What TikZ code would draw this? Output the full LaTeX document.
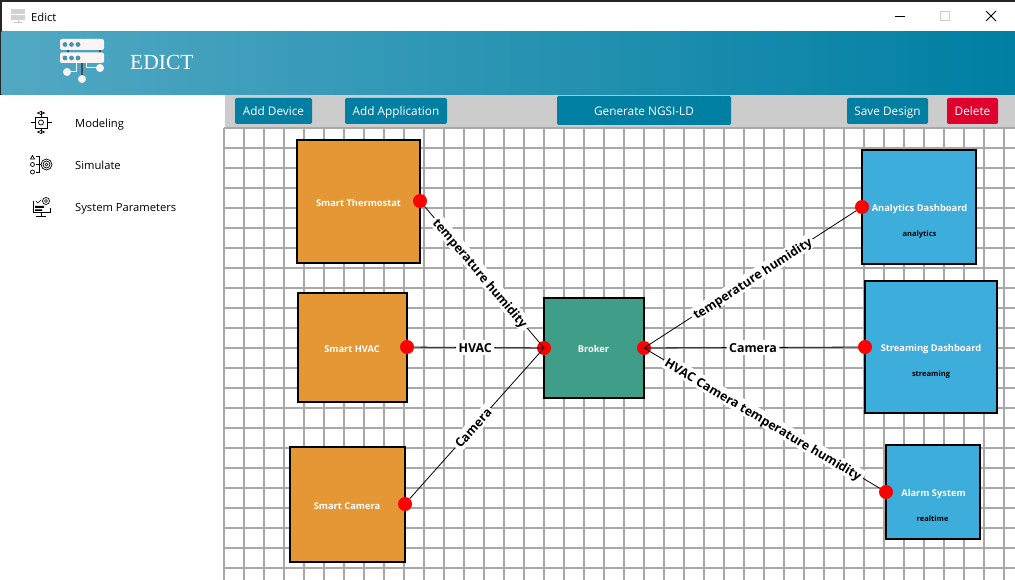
\documentclass[tikz,border=0pt]{standalone}
\usepackage{fontspec}
\setmainfont{Open Sans}
\newfontfamily\titlefont{Liberation Serif}
\definecolor{ink}{HTML}{000000}
\definecolor{barleft}{HTML}{52A8C3}
\definecolor{barright}{HTML}{007FA3}
\definecolor{btnblue}{HTML}{007FA3}
\definecolor{btnred}{HTML}{E0002D}
\definecolor{toolbg}{HTML}{CCCCCC}
\definecolor{gridline}{HTML}{A8A8A8}
\definecolor{device}{HTML}{E59736}
\definecolor{brokerc}{HTML}{3F9E87}
\definecolor{appc}{HTML}{3DADDB}
\definecolor{logodot}{HTML}{4A93AD}
\definecolor{logowhite}{HTML}{FBF4F4}
\usetikzlibrary{positioning}
\tikzset{
  toolbtn/.style={
    fill=btnblue,
    rounded corners=2pt,
    text=white,
    inner sep=0pt,
    font=\fontsize{11.8}{14}\selectfont,
    text height=10pt,
    text depth=0pt,
    minimum height=26pt
  },
  sideitem/.style={anchor=base west, inner sep=0pt, font=\fontsize{11.2}{14}\selectfont, text=ink},
  box/.style={draw=ink, line width=2pt, inner sep=0pt},
  devicebox/.style={box, fill=device},
  appbox/.style={box, fill=appc},
  boxname/.style={inner sep=0pt, text=white, font=\bfseries\fontsize{9.3}{11}\selectfont, text height=8pt, text depth=0pt},
  boxsub/.style={inner sep=0pt, text=ink, font=\bfseries\fontsize{7.5}{9}\selectfont, text height=6pt, text depth=0pt},
  port/.style={circle, fill=red, minimum size=14pt, inner sep=0pt},
  wire/.style={draw=ink, line width=0.8pt},
  wirelabel/.style={
    midway, sloped, fill=white, inner sep=2.5pt,
    text=ink, text height=10pt, text depth=0pt,
    font=\bfseries\fontsize{12.4}{14}\selectfont
  },
  iconline/.style={draw=ink, line width=0.7pt}
}
\begin{document}
\begin{tikzpicture}[x=1pt, y=-1pt]
  \useasboundingbox (0,0) rectangle (1015,580);
  \fill[white] (0,0) rectangle (1015,580);

  % Window frame and title bar
  \fill[black!85] (0,0) rectangle (1015,2);
  \fill[black!85] (0,0) rectangle (1.5,95);
  \node[sideitem] (wintitle) at (31,22) {Edict};
  \fill[gray!35] (11,9) rectangle (25,14);
  \fill[gray!35] (11,15) rectangle (25,20);
  \draw[gray!45, line width=0.7pt] (18,20) -- (18,23) (14,22) -- (22,22);
  \draw[ink, line width=0.9pt] (895,16) -- (905,16);
  \draw[black!20, line width=0.9pt] (940.5,11.5) rectangle (949.5,20.5);
  \draw[ink, line width=0.9pt] (986,11) -- (996,21) (996,11) -- (986,21);

  % Header
  \shade[left color=barleft, right color=barright] (1.5,32) rectangle (1015,95);
  \node[anchor=west, inner sep=0pt, text=white, font=\titlefont\fontsize{21.5}{26}\selectfont] (apptitle) at (130,62) {EDICT};

  % Logo
  \fill[black!70] (67,49) rectangle (69,53) (99,49) rectangle (101,53);
  \fill[logowhite, rounded corners=2pt] (60,39) rectangle (104,50);
  \fill[logowhite, rounded corners=2pt] (60,52.5) rectangle (104,63);
  \foreach \dx in {65,71.5,78} {
    \fill[logodot] (\dx,44.5) circle (2.4pt);
    \fill[logodot] (\dx,58) circle (2.4pt);
  }
  \draw[black!70, line width=2pt] (82,63) -- (82,78);
  \draw[logowhite, line width=1pt] (67,72) -- (76,72) -- (76,63);
  \draw[logowhite, line width=1pt] (86,63) -- (86,68) -- (100,68);
  \fill[logowhite] (67,72) circle (4pt) (82,79) circle (4pt) (100,68) circle (4pt);

  % Sidebar
  \node[sideitem] (modeling) at (75,127.5) {Modeling};
  \node[sideitem] (simulate) at (75,169.5) {Simulate};
  \node[sideitem] (sysparams) at (75,211.5) {System Parameters};

  % Modeling icon
  \draw[iconline] (35,117) rectangle (47,128);
  \draw[iconline] (41,122.5) circle (2.5pt);
  \draw[iconline] (41,115) -- (41,117) (41,128) -- (41,130) (33,122.5) -- (35,122.5) (47,122.5) -- (49,122.5);
  \foreach \px/\py/\qx/\qy in {41/111.5/41/115, 41/130/41/133.5, 30.5/122.5/33/122.5, 49/122.5/52/122.5} {
    \draw[iconline] (\px,\py) -- (\qx,\qy);
  }
  \draw[iconline] (37.5,113) -- (41,111.5) -- (44.5,113) -- (41,114.5) -- cycle;
  \draw[iconline] (37.5,132) -- (41,130.5) -- (44.5,132) -- (41,133.5) -- cycle;

  % Simulate icon
  \draw[iconline] (46.5,164.5) circle (5.5pt);
  \draw[iconline] (46.5,164.5) circle (3.5pt);
  \draw[iconline] (46.5,164.5) circle (1.5pt);
  \draw[iconline] (32.5,155.5) -- (30.5,159) -- (34.5,159) -- cycle;
  \draw[iconline] (32.5,164.5) circle (2pt) (32.5,172) circle (2pt);
  \draw[iconline] (36,164.5) -- (41,164.5) (36,156) -- (39,156) -- (39,172) -- (36,172);

  % System parameters icon
  \draw[iconline] (33,201) -- (33,212) -- (50,212) -- (50,208);
  \fill[ink] (35,206) rectangle (44,208) (35,209.5) rectangle (42,211);
  \draw[iconline] (46,201) circle (3.5pt);
  \draw[iconline] (46,201) circle (1.5pt);
  \draw[iconline] (36,201) -- (38,203) -- (41,200);
  \draw[iconline] (41,212) -- (41,216) (36,216) -- (46,216);

  % Toolbar
  \fill[toolbg] (225,95) rectangle (1015,128);

  % Canvas grid
  \foreach \gx in {224,244,...,1014} {
    \draw[gridline, line width=1.3pt] (\gx,128) -- (\gx,580);
  }
  \foreach \gy in {128,148,...,568} {
    \draw[gridline, line width=1.3pt] (224,\gy) -- (1015,\gy);
  }

  % Toolbar buttons
  \node[toolbtn, minimum width=77pt] (adddevice) at (273.5,111) {Add Device};
  \node[toolbtn, minimum width=102pt] (addapp) at (396,111) {Add Application};
  \node[toolbtn, minimum width=174pt, minimum height=29pt] (generate) at (644,110.5) {Generate NGSI-LD};
  \node[toolbtn, minimum width=81pt] (savedesign) at (887.5,111) {Save Design};
  \node[toolbtn, fill=btnred, minimum width=51pt] (deletebtn) at (972.5,111) {Delete};

  % Devices
  \node[devicebox, minimum width=123pt, minimum height=123pt] (thermostat) at (358.7,201.7) {};
  \node[boxname] (thermostatname) at (358.5,202.5) {Smart Thermostat};
  \node[devicebox, minimum width=109pt, minimum height=109pt] (hvac) at (352.5,347.5) {};
  \node[boxname] (hvacname) at (352,348.5) {Smart HVAC};
  \node[devicebox, minimum width=115pt, minimum height=115pt] (camera) at (347.5,504.5) {};
  \node[boxname] (cameraname) at (347,505.5) {Smart Camera};

  % Broker
  \node[box, fill=brokerc, minimum width=100pt, minimum height=100pt] (broker) at (594,348) {};
  \node[boxname] (brokername) at (593.5,348.5) {Broker};

  % Applications
  \node[appbox, minimum width=114pt, minimum height=114pt] (analytics) at (919,207) {};
  \node[boxname] (analyticsname) at (919.5,207.5) {Analytics Dashboard};
  \node[boxsub] (analyticssub) at (919.5,233.5) {analytics};
  \node[appbox, minimum width=132pt, minimum height=132pt] (streaming) at (931,347) {};
  \node[boxname] (streamingname) at (931,347.5) {Streaming Dashboard};
  \node[boxsub] (streamingsub) at (931,373.5) {streaming};
  \node[appbox, minimum width=94pt, minimum height=94pt] (alarm) at (933,492) {};
  \node[boxname] (alarmname) at (933.5,492.5) {Alarm System};
  \node[boxsub] (alarmsub) at (932.5,518.5) {realtime};

  % Ports
  \node[port] (thermostatout) at (420,201) {};
  \node[port] (hvacout) at (407,347) {};
  \node[port] (cameraout) at (405,504) {};
  \node[port] (brokerin) at (544,348) {};
  \node[port] (brokerout) at (644,348) {};
  \node[port] (analyticsin) at (862,207) {};
  \node[port] (streamingin) at (865,347) {};
  \node[port] (alarmin) at (886,492) {};

  % Connections
  \draw[wire] (thermostatout) -- node[wirelabel, pos=0.47] (lblthermostat) {temperature humidity} (brokerin.center);
  \draw[wire] (hvacout) -- node[wirelabel, pos=0.47] (lblhvac) {HVAC} (brokerin.center);
  \draw[wire] (cameraout) -- node[wirelabel, pos=0.47] (lblcamera) {Camera} (brokerin.center);
  \draw[wire] (brokerout.center) -- node[wirelabel, pos=0.51] (lblanalytics) {temperature humidity} (analyticsin);
  \draw[wire] (brokerout.center) -- node[wirelabel, pos=0.51] (lblstreaming) {Camera} (streamingin);
  \draw[wire] (brokerout.center) -- node[wirelabel, pos=0.507] (lblalarm) {HVAC Camera temperature humidity} (alarmin);
\end{tikzpicture}
\end{document}
